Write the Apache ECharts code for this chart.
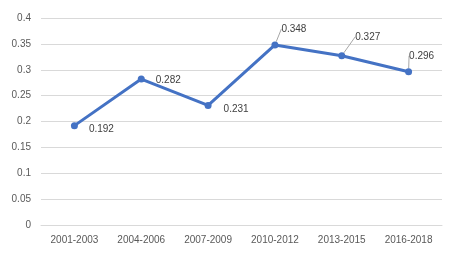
<!DOCTYPE html>
<html>
<head>
<meta charset="utf-8">
<script src="https://cdn.jsdelivr.net/npm/echarts@6/dist/echarts.min.js"></script>
<style>
  html, body { margin: 0; padding: 0; background: #fff; }
  #chart { width: 466px; height: 255px; }
</style>
</head>
<body>
<div id="chart"></div>
<script>
const periods = ["2001-2003", "2004-2006", "2007-2009", "2010-2012", "2013-2015", "2016-2018"];
const values = [0.192, 0.282, 0.231, 0.348, 0.327, 0.296];
const yTicks = [0, 0.05, 0.1, 0.15, 0.2, 0.25, 0.3, 0.35, 0.4];

// label offsets (px from the point), leader line for the ones pushed up
const labelShift = [
  { dx: 27, dy: 4, line: false },
  { dx: 27, dy: 1, line: false },
  { dx: 28, dy: 4, line: false },
  { dx: 19, dy: -16, line: true },
  { dx: 26, dy: -19, line: true },
  { dx: 13, dy: -16, line: true }
];

const chart = echarts.init(document.getElementById("chart"));
const font = "'Liberation Sans', Arial, sans-serif";

chart.setOption({
  animation: false,
  grid: { left: 41, right: 24, top: 18, bottom: 30 },
  xAxis: {
    type: "category",
    data: periods,
    boundaryGap: true,
    axisLine: { lineStyle: { color: "#d9d9d9" } },
    axisTick: { show: false },
    axisLabel: { color: "#595959", fontSize: 10, fontFamily: font, margin: 10 }
  },
  yAxis: {
    type: "value",
    min: yTicks[0],
    max: yTicks[yTicks.length - 1],
    interval: 0.05,
    axisLine: { show: false },
    axisTick: { show: false },
    splitLine: { lineStyle: { color: "#d9d9d9" } },
    axisLabel: { color: "#595959", fontSize: 10, fontFamily: font, margin: 10 }
  },
  series: [{
    type: "line",
    data: values.map((v, i) => ({
      value: v,
      labelLine: { show: labelShift[i].line }
    })),
    symbol: "circle",
    symbolSize: 7,
    lineStyle: { color: "#4472c4", width: 3 },
    itemStyle: { color: "#4472c4" },
    label: {
      show: true,
      position: "inside",
      color: "#404040",
      fontSize: 10,
      fontFamily: font
    },
    labelLine: { lineStyle: { color: "#a6a6a6", width: 1 } },
    labelLayout: params => {
      const s = labelShift[params.dataIndex];
      return { dx: s.dx, dy: s.dy };
    }
  }]
});
</script>
</body>
</html>
